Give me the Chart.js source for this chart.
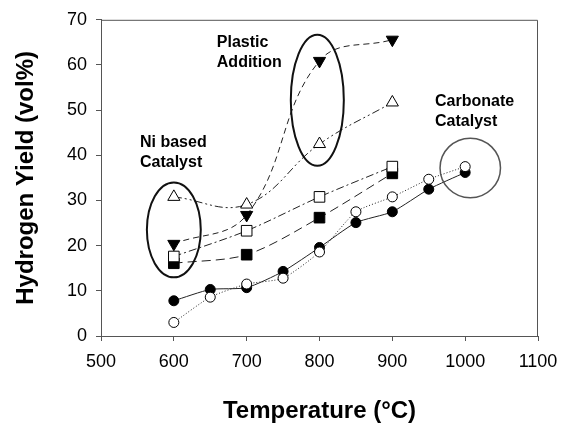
<!DOCTYPE html>
<html>
<head>
<meta charset="utf-8">
<script src="https://cdn.jsdelivr.net/npm/chart.js@4.4.1/dist/chart.umd.min.js"></script>
<style>
  body { margin: 0; background: #fff; }
  #wrap { width: 569px; height: 429px; position: relative; }
</style>
</head>
<body>
<div id="wrap"><canvas id="yieldChart"></canvas></div>
<script>
// Temperatures (x values)
const tempsLong = [600, 650, 700, 750, 800, 850, 900, 950, 1000];
const tempsShort = [600, 700, 800, 900];

// Hydrogen yield (vol%)
const carbFilled = [7.8, 10.3, 10.7, 14.3, 19.6, 25.1, 27.5, 32.5, 36.2];
const carbOpen = [3.0, 8.6, 11.5, 12.8, 18.6, 27.5, 30.8, 34.7, 37.5];
const niFilled = [16.1, 18.0, 26.2, 36.0];
const niOpen = [17.6, 23.3, 30.8, 37.5];
const plasticFilled = [20.4, 26.8, 60.9, 65.6];
const plasticOpen = [30.8, 29.1, 42.5, 51.7];

const xTicks = [500, 600, 700, 800, 900, 1000, 1100];
const yTicks = [0, 10, 20, 30, 40, 50, 60, 70];

const FONT = "'Liberation Sans', Arial, sans-serif";

function toPoints(xs, ys) {
  return ys.map((y, i) => ({ x: xs[i], y: y }));
}

function series(xs, ys, style, fill, dash, tension, rotation, radius) {
  return {
    data: toPoints(xs, ys),
    pointStyle: style,
    pointRotation: rotation || 0,
    pointRadius: radius,
    pointBackgroundColor: fill,
    pointBorderColor: '#000',
    pointBorderWidth: 1,
    borderColor: '#222',
    borderWidth: 1,
    borderDash: dash,
    tension: tension,
    fill: false
  };
}

// Annotations (ellipses + labels), in data units
const ellipses = [
  { x: 600, y: 23.5, rx: 37, ry: 10.5, color: '#111', width: 2 },
  { x: 797, y: 52.2, rx: 36.4, ry: 14.5, color: '#111', width: 2 },
  { x: 1007, y: 37.2, rx: 41.5, ry: 6.6, color: '#555', width: 1.5 }
];
const labels = [
  { x: 553.5, y: 42.9, lines: ['Ni based', 'Catalyst'] },
  { x: 659, y: 64.9, lines: ['Plastic', 'Addition'] },
  { x: 958.6, y: 51.9, lines: ['Carbonate', 'Catalyst'] }
];

const annotatePlugin = {
  id: 'annotate',
  afterDatasetsDraw(chart) {
    const { ctx, chartArea, scales } = chart;
    const sx = scales.x, sy = scales.y;
    ctx.save();
    // frame (top + right)
    ctx.strokeStyle = '#555';
    ctx.lineWidth = 1;
    ctx.beginPath();
    ctx.moveTo(chartArea.left, chartArea.top + 0.5);
    ctx.lineTo(chartArea.right - 0.5, chartArea.top + 0.5);
    ctx.lineTo(chartArea.right - 0.5, chartArea.bottom);
    ctx.stroke();

    ellipses.forEach(e => {
      const cx = sx.getPixelForValue(e.x);
      const cy = sy.getPixelForValue(e.y);
      const rx = Math.abs(sx.getPixelForValue(e.x + e.rx) - cx);
      const ry = Math.abs(sy.getPixelForValue(e.y + e.ry) - cy);
      ctx.beginPath();
      ctx.ellipse(cx, cy, rx, ry, 0, 0, Math.PI * 2);
      ctx.strokeStyle = e.color;
      ctx.lineWidth = e.width;
      ctx.stroke();
    });

    ctx.fillStyle = '#000';
    ctx.font = 'bold 16px ' + FONT;
    ctx.textAlign = 'left';
    ctx.textBaseline = 'middle';
    labels.forEach(l => {
      const px = sx.getPixelForValue(l.x);
      const py = sy.getPixelForValue(l.y);
      l.lines.forEach((t, i) => ctx.fillText(t, px, py + i * 20));
    });
    ctx.restore();
  }
};

new Chart(document.getElementById('yieldChart'), {
  type: 'line',
  data: {
    datasets: [
      series(tempsShort, plasticFilled, 'triangle', '#000', [6, 4], 0.4, 180, 7),
      series(tempsShort, plasticOpen, 'triangle', '#fff', [8, 3, 2, 3, 2, 3], 0.4, 0, 7),
      series(tempsShort, niOpen, 'rect', '#fff', [8, 3, 2, 3], 0.3, 0, 7.5),
      series(tempsShort, niFilled, 'rect', '#000', [9, 5], 0.3, 0, 7.5),
      series(tempsLong, carbOpen, 'circle', '#fff', [1, 2], 0.2, 0, 5),
      series(tempsLong, carbFilled, 'circle', '#000', [], 0.2, 0, 5)
    ]
  },
  options: {
    responsive: true,
    maintainAspectRatio: false,
    animation: false,
    layout: { padding: { top: 17, right: 31, left: 0, bottom: 0 } },
    plugins: {
      legend: { display: false },
      tooltip: { enabled: false }
    },
    scales: {
      x: {
        type: 'linear',
        min: 500,
        max: 1100,
        afterBuildTicks: s => { s.ticks = xTicks.map(v => ({ value: v })); },
        afterFit: s => { s.height = 93; },
        grid: { drawOnChartArea: false, tickLength: 5, color: '#555' },
        border: { color: '#555', width: 1 },
        ticks: {
          color: '#000',
          padding: 10,
          font: { family: FONT, size: 18 },
          callback: v => String(v)
        },
        title: {
          display: true,
          text: 'Temperature (\u00B0C)',
          color: '#000',
          padding: { top: 0, bottom: 3 },
          font: { family: FONT, size: 24, weight: 'bold' }
        }
      },
      y: {
        min: 0,
        max: 70,
        afterBuildTicks: s => { s.ticks = yTicks.map(v => ({ value: v })); },
        afterFit: s => { s.width = 101; },
        grid: { drawOnChartArea: false, tickLength: 5, color: '#555' },
        border: { color: '#555', width: 1 },
        ticks: {
          color: '#000',
          padding: 9,
          font: { family: FONT, size: 18 },
          callback: v => String(v)
        },
        title: {
          display: true,
          text: 'Hydrogen Yield (vol%)',
          color: '#000',
          padding: { top: 12, bottom: 0 },
          font: { family: FONT, size: 24, weight: 'bold' }
        }
      }
    }
  },
  plugins: [annotatePlugin]
});
</script>
</body>
</html>
